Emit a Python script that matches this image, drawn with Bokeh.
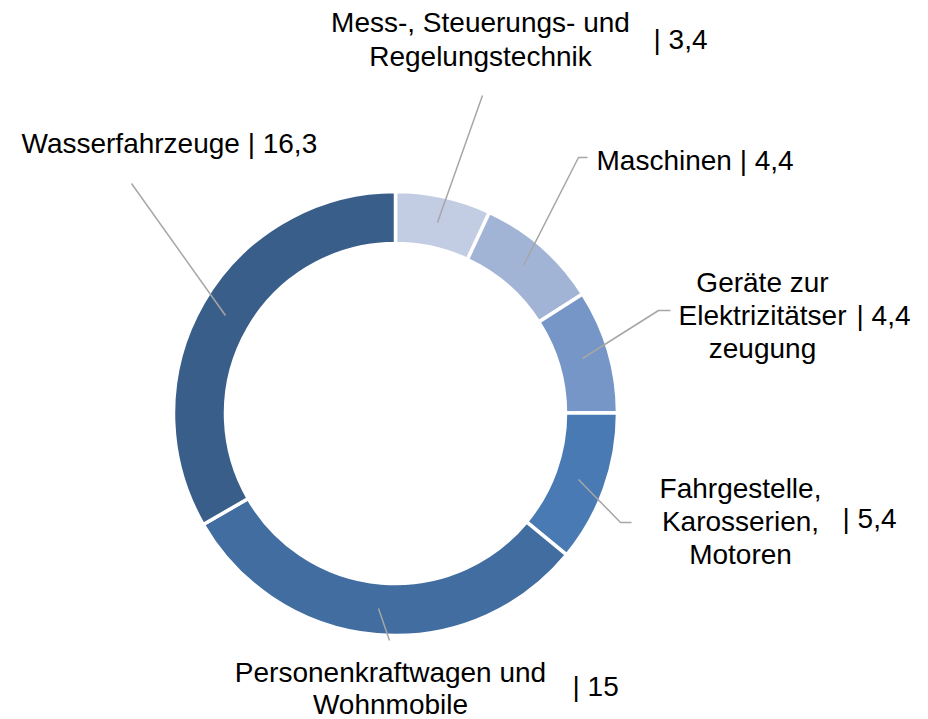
import numpy as np
from bokeh.plotting import figure
from bokeh.models import Range1d, ColumnDataSource
from bokeh.core.properties import value
from bokeh.embed import file_html
from bokeh.resources import INLINE

# ---- data ----
categories = ["Mess-, Steuerungs- und Regelungstechnik", "Maschinen",
              "Geräte zur Elektrizitätserzeugung", "Fahrgestelle, Karosserien, Motoren",
              "Personenkraftwagen und Wohnmobile", "Wasserfahrzeuge"]
values = [3.4, 4.4, 4.4, 5.4, 15.0, 16.3]
value_labels = ["3,4", "4,4", "4,4", "5,4", "15", "16,3"]
colors = ["#c2cde3", "#a2b4d5", "#7596c6", "#4a7ab4", "#426da0", "#3a5e8a"]

W, H = 928, 719
def Y(ypx):
    return H - ypx

p = figure(width=W, height=H, x_range=Range1d(0, W), y_range=Range1d(0, H),
           output_backend="svg", toolbar_location=None, min_border=0,
           x_axis_type=None, y_axis_type=None)
p.outline_line_color = None
p.xgrid.visible = False
p.ygrid.visible = False

# ---- donut ----
vals = np.array(values)
total = vals.sum()
cum = np.concatenate([[0], np.cumsum(vals)])
start = np.pi / 2 - 2 * np.pi * cum[:-1] / total
end = np.pi / 2 - 2 * np.pi * cum[1:] / total
src = ColumnDataSource(dict(start=start, end=end, color=colors, cat=categories))
cx, cy = 395, Y(413)
p.annular_wedge(x=cx, y=cy, inner_radius=170, outer_radius=222,
                start_angle="start", end_angle="end", direction="clock",
                fill_color="color", line_color="white", line_width=3.5, source=src)

# ---- leader lines ----
leaders = [
    [(437, 222), (482, 95)],
    [(523, 265), (578, 157), (587, 157)],
    [(582, 358), (658, 310), (670, 310)],
    [(578, 479), (620, 522), (631, 522)],
    [(378, 608), (389, 640)],
    [(225, 315), (131, 183)],
]
p.multi_line(xs=[[pt[0] for pt in L] for L in leaders],
             ys=[[Y(pt[1]) for pt in L] for L in leaders],
             line_color="#a6a6a6", line_width=1.5)

# ---- labels ----
font = value("Liberation Sans")
fs = "28px"
name_lines = [
    ["Mess-, Steuerungs- und", "Regelungstechnik"],
    ["Maschinen | " + value_labels[1]],
    ["Geräte zur", "Elektrizitätser", "zeugung"],
    ["Fahrgestelle,", "Karosserien,", "Motoren"],
    ["Personenkraftwagen und", "Wohnmobile"],
    ["Wasserfahrzeuge | " + value_labels[5]],
]
block_pos = [(480, [22, 56], "center"),
             (596, [160], "left"),
             (762, [282, 315, 348], "center"),
             (740, [488, 521, 554], "center"),
             (390, [672, 704], "center"),
             (21, [143], "left")]
val_pos = {0: (653, 39), 2: (856, 315), 3: (842, 518), 4: (572, 686)}

for i, lines in enumerate(name_lines):
    x, ys, align = block_pos[i]
    p.text(x=[x] * len(lines), y=[Y(v) for v in ys], text=lines,
           text_font=font, text_font_size=fs, text_color="#000000",
           text_align=align, text_baseline="middle")
for i, (vx, vy) in val_pos.items():
    p.text(x=[vx], y=[Y(vy)], text=["| " + value_labels[i]],
           text_font=font, text_font_size=fs, text_color="#000000",
           text_align="left", text_baseline="middle")

open("out.html", "w").write(file_html(p, INLINE))
